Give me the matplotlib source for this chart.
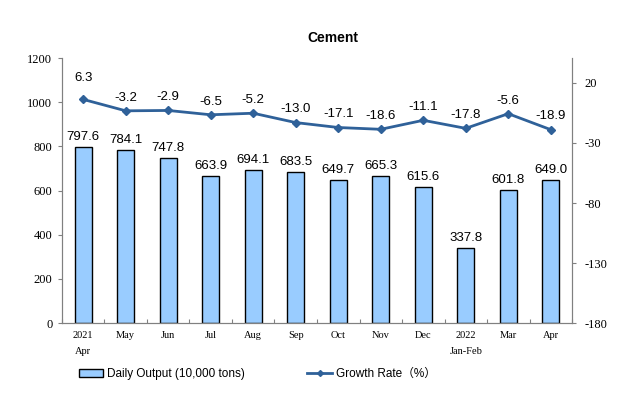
import matplotlib
matplotlib.use("Agg")
import matplotlib.pyplot as plt
import numpy as np
from matplotlib.lines import Line2D
from matplotlib.patches import Patch

categories = ["2021\nApr", "May", "Jun", "Jul", "Aug", "Sep", "Oct", "Nov", "Dec", "2022\nJan-Feb", "Mar", "Apr"]
daily_output = [797.6, 784.1, 747.8, 663.9, 694.1, 683.5, 649.7, 665.3, 615.6, 337.8, 601.8, 649.0]
growth_rate = [6.3, -3.2, -2.9, -6.5, -5.2, -13.0, -17.1, -18.6, -11.1, -17.8, -5.6, -18.9]
left_ticks = [0, 200, 400, 600, 800, 1000, 1200]
right_ticks = [-180, -130, -80, -30, 20]

fig = plt.figure(figsize=(6.43, 3.93), dpi=100)
ax = fig.add_axes([0.0964, 0.178, 0.7932, 0.6744])
x = np.arange(len(categories))

bar_color = "#99CCFF"
line_color = "#2F6199"

ax.bar(x, daily_output, width=0.4, color=bar_color, edgecolor="black", linewidth=1.0, zorder=2)
ax.set_xlim(-0.5, len(categories) - 0.5)
ax.set_ylim(0, 1200)
ax.set_yticks(left_ticks)
ax.set_yticklabels([str(t) for t in left_ticks], fontfamily="Liberation Serif", fontsize=9)

ax.set_xticks(np.arange(-0.5, len(categories), 1.0))
ax.set_xticklabels([])
ax.tick_params(axis="x", which="major", length=3, direction="in", color="#808080")
ax.set_xticks(x, minor=True)
ax.set_xticklabels(categories, minor=True, fontfamily="Liberation Serif", fontsize=7.5, linespacing=1.9)
ax.tick_params(axis="x", which="minor", length=0, pad=6)
ax.tick_params(axis="y", length=3, color="#808080", pad=4)

for s in ["top"]:
    ax.spines[s].set_visible(False)
for s in ["left", "bottom", "right"]:
    ax.spines[s].set_color("#808080")

for xi, v in zip(x, daily_output):
    ax.text(xi, v + 18, f"{v:.1f}", ha="center", va="bottom", fontsize=9.5,
            fontfamily="Liberation Sans")

ax2 = ax.twinx()
ax2.set_ylim(-180, 40.8)
ax2.set_yticks(right_ticks)
ax2.set_yticklabels([str(t) for t in right_ticks], fontfamily="Liberation Serif", fontsize=9)
ax2.tick_params(axis="y", length=3, color="#808080", pad=6)
ax2.spines["top"].set_visible(False)
for s in ["left", "bottom", "right"]:
    ax2.spines[s].set_color("#808080")
ax2.plot(x, growth_rate, color=line_color, linewidth=2.0, marker="D", markersize=4, zorder=3)
for i, (xi, v) in enumerate(zip(x, growth_rate)):
    off = 13 if i == 0 else 6
    ax2.text(xi, v + off, f"{v:.1f}", ha="center", va="bottom", fontsize=9.5,
             fontfamily="Liberation Sans")

fig.text(0.518, 0.903, "Cement", ha="center", va="center", fontsize=10, fontweight="bold",
         fontfamily="Liberation Sans")

handles = [Patch(facecolor=bar_color, edgecolor="black", linewidth=1.0),
           Line2D([0], [0], color=line_color, linewidth=2.0, marker="D", markersize=3)]
labels = ["Daily Output (10,000 tons)", "Growth Rate\uff08%\uff09"]
fig.legend(handles, labels, loc="center", bbox_to_anchor=(0.4, 0.048), ncol=2, frameon=False,
           prop={"family": ["Liberation Sans", "Noto Sans CJK SC"], "size": 8.5}, columnspacing=5.3,
           handlelength=2.1, handleheight=0.6, handletextpad=0.3)

fig.savefig("out.png", dpi=100)
